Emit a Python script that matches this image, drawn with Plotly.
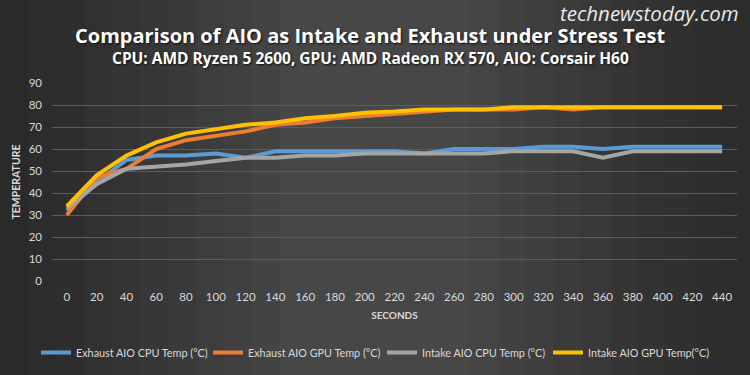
import plotly.graph_objects as go

seconds = [0, 20, 40, 60, 80, 100, 120, 140, 160, 180, 200, 220, 240, 260, 280, 300, 320, 340, 360, 380, 400, 420, 440]
exhaust_cpu = [32, 45, 55, 57, 57, 58, 56, 59, 59, 59, 59, 59, 58, 60, 60, 60, 61, 61, 60, 61, 61, 61, 61]
exhaust_gpu = [30, 47, 51, 60, 64, 66, 68, 71, 72, 74, 75, 76, 77, 78, 78, 78, 79, 78, 79, 79, 79, 79, 79]
intake_cpu = [33, 44, 51, 52, 53, 54.5, 56, 56, 57, 57, 58, 58, 58, 58, 58, 59, 59, 59, 56, 59, 59, 59, 59]
intake_gpu = [34, 48, 57, 63, 67, 69, 71, 72, 74, 75, 76.5, 77, 78, 78, 78, 79, 79, 79, 79, 79, 79, 79, 79]

series_names = ["Exhaust AIO CPU Temp (°C)", "Exhaust AIO GPU Temp (°C)",
                "Intake AIO CPU Temp (°C)", "Intake AIO GPU Temp(°C)"]
series_values = [exhaust_cpu, exhaust_gpu, intake_cpu, intake_gpu]
colors = ["#5b9bd5", "#ed7d31", "#a5a5a5", "#ffc000"]
y_ticks = list(range(0, 100, 10))

FONT = "Lato"
W, H = 750, 375
L, R, T, B = 52, 13, 83, 94
PW = W - L - R
PH = H - T - B

def px2paper(px):
    return (px - L) / PW

def py2paper(py):
    return (H - B - py) / PH

legend_ids = ["legend", "legend2", "legend3", "legend4"]
legend_left_px = [36, 208, 382, 548]

fig = go.Figure()
for name, vals, c, lid in zip(series_names, series_values, colors, legend_ids):
    fig.add_trace(go.Scatter(x=seconds, y=vals, name=name, mode="lines",
                             line=dict(color=c, width=4), legend=lid))

shapes = []
n = 10
for i in range(n):
    w = (i + 1) * 28
    shapes.append(dict(type="rect", xref="paper", yref="paper", layer="below",
                       x0=px2paper(0), x1=px2paper(w), y0=-2, y1=3,
                       fillcolor="black", opacity=0.045, line=dict(width=0)))
    shapes.append(dict(type="rect", xref="paper", yref="paper", layer="below",
                       x0=px2paper(W - w), x1=px2paper(W), y0=-2, y1=3,
                       fillcolor="black", opacity=0.04, line=dict(width=0)))

legend_layout = {}
for lid, lx in zip(legend_ids, legend_left_px):
    legend_layout[lid] = dict(orientation="h", x=px2paper(lx), xanchor="left",
                              y=py2paper(338), yanchor="top",
                              font=dict(size=10.8, color="#d9d9d9", family=FONT),
                              itemwidth=30, bgcolor="rgba(0,0,0,0)")

fig.update_layout(
    width=W, height=H,
    paper_bgcolor="#474747", plot_bgcolor="rgba(0,0,0,0)",
    margin=dict(l=L, r=R, t=T, b=B, autoexpand=False),
    font=dict(family=FONT, color="#d9d9d9", size=11),
    showlegend=True,
    shapes=shapes,
    xaxis=dict(range=[-10, 450], tickmode="array", tickvals=seconds,
               ticktext=[str(s) for s in seconds], showgrid=False, zeroline=False,
               showline=False, ticks="", automargin=False, ticklabelstandoff=7,
               tickfont=dict(size=11.5, color="#d9d9d9", family=FONT),
               title=dict(text="<b>SECONDS</b>", font=dict(size=10, color="#d9d9d9", family=FONT), standoff=10)),
    yaxis=dict(range=[0, 90], tickvals=y_ticks, showgrid=True, gridcolor="#5c5c5c",
               gridwidth=1, zeroline=False, showline=False, ticks="", automargin=False,
               ticklabelstandoff=9,
               tickfont=dict(size=11.5, color="#d9d9d9", family=FONT),
               title=dict(text="<b>TEMPERATURE</b>", font=dict(size=10.5, color="#d9d9d9", family=FONT), standoff=5)),
    annotations=[
        dict(text="<b>Comparison of AIO as Intake and Exhaust under Stress Test</b>",
             xref="paper", yref="paper", x=px2paper(370), y=py2paper(35), xanchor="center", yanchor="middle",
             showarrow=False, font=dict(size=20, color="#ffffff", family="Open Sans", shadow="1px 1px 2px #111")),
        dict(text="<b>CPU: AMD Ryzen 5 2600, GPU: AMD Radeon RX 570, AIO: Corsair H60</b>",
             xref="paper", yref="paper", x=px2paper(370), y=py2paper(58), xanchor="center", yanchor="middle",
             showarrow=False, font=dict(size=15.5, color="#ffffff", family="Open Sans", shadow="1px 1px 2px #111")),
        dict(text="<i>technewstoday.com</i>", xref="paper", yref="paper",
             x=px2paper(741), y=py2paper(13), xanchor="right", yanchor="middle",
             showarrow=False, font=dict(size=20.5, color="#e8e8e8", family="Open Sans")),
    ],
    **legend_layout,
)
fig.write_html("out.html", config={"displayModeBar": False},
               post_script="document.body.style.margin='0px';document.body.style.background='#333';")
